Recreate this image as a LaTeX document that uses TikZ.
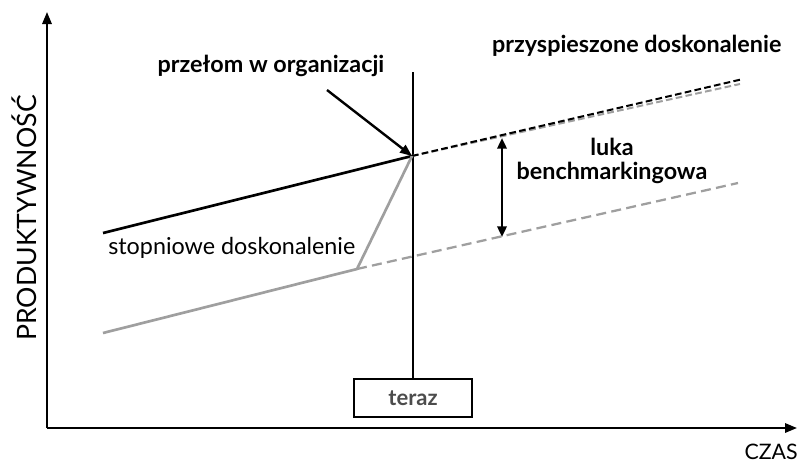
\documentclass[tikz,border=0pt]{standalone}
\usepackage{fontspec}
\setmainfont{Lato}
\usetikzlibrary{arrows.meta}
\tikzset{
  axis/.style={line width=1.6pt,-{Triangle[length=9pt,width=7pt]}},
  trend/.style={line width=2pt},
  slow/.style={line width=2pt,gray!75},
  fore/.style={line width=1.5pt,dash pattern=on 5pt off 2.5pt},
  forelow/.style={line width=1.7pt,gray!75,dash pattern=on 7.5pt off 4pt},
  lbl/.style={font=\bfseries\fontsize{17.5}{19}\selectfont},
  txt/.style={font=\fontsize{17.5}{19}\selectfont}
}
\begin{document}
\begin{tikzpicture}[x=0.75pt,y=-0.75pt]
\useasboundingbox (0,0) rectangle (799,468);
% axes
\coordinate (O) at (47,428);
\coordinate (ytop) at (47,12);
\coordinate (xend) at (797,428);
\draw[axis] (O) -- (ytop);
\draw[axis] (O) -- (xend);
\node[rotate=90,font=\fontsize{20}{22}\selectfont] (prod) at (24,218) {PRODUKTYWNOŚĆ};
\node[anchor=east,font=\fontsize{16}{18}\selectfont,inner sep=0pt] (czas) at (798,452) {CZAS};
% now
\node[draw,line width=1.4pt,minimum width=88pt,minimum height=29pt,font=\bfseries\fontsize{16.5}{18}\selectfont,text=black!70] (teraz) at (413,398) {teraz};
\coordinate (top) at (413,72);
\draw[line width=1.5pt] (top) -- (teraz.north);
% trends
\coordinate (P) at (412,156);
\coordinate (A) at (103,233);
\coordinate (B) at (103,333);
\coordinate (S) at (357,269);
\coordinate (Ehi) at (743,79);
\coordinate (Egr) at (740,84);
\coordinate (Elo) at (738,183);
\draw[fore,gray!75] (P) -- (Egr);
\draw[fore] (P) -- (Ehi);
\draw[forelow] (S) -- (Elo);
\draw[trend] (A) -- (P);
\draw[slow,line join=round] (B) -- (S) -- (P);
% labels
\node[txt,anchor=south west,inner sep=0pt] (stop) at (108,259) {stopniowe doskonalenie};
\node[lbl] (przelom) at (271,66) {przełom w organizacji};
\node[lbl,anchor=east] (przysp) at (786,46) {przyspieszone doskonalenie};
\node[lbl,align=center] (luka) at (612,161) {luka\\[-1pt]benchmarkingowa};
\coordinate (gaptop) at (502,138);
\coordinate (gapbot) at (502,237);
\draw[line width=1.8pt,{Triangle[length=8pt,width=7pt]}-{Triangle[length=8pt,width=7pt]}] (gaptop) -- (gapbot);
\coordinate (arrfrom) at (327,90);
\draw[line width=1.8pt,-{Triangle[length=9pt,width=7pt]}] (arrfrom) -- (P);
\end{tikzpicture}
\end{document}
